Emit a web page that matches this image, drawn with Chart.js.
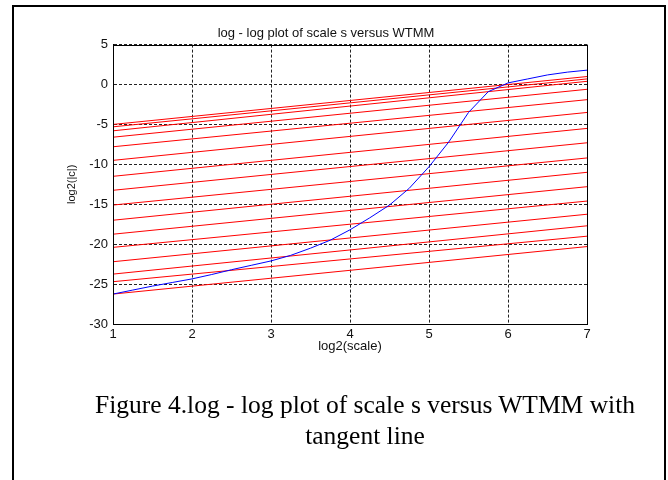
<!DOCTYPE html>
<html>
<head>
<meta charset="utf-8">
<script src="https://cdn.jsdelivr.net/npm/chart.js@4.4.1/dist/chart.umd.min.js"></script>
<style>
    html, body { margin: 0; padding: 0; background: #fff; }
    #wrap { position: relative; width: 668px; height: 480px; overflow: hidden; }
    #frame { position: absolute; left: 12px; top: 5px; width: 650px; height: 520px; border: 2px solid #000; }
    #chart-box { position: absolute; left: 0; top: 0; width: 668px; height: 480px; }
    #caption {
        position: absolute; left: 45px; width: 640px; top: 389px;
        font-family: 'Liberation Serif', 'DejaVu Serif', serif; font-size: 25.5px;
        line-height: 31px; text-align: center; color: #000;
    }
</style>
</head>
<body>
<div id="wrap">
    <div id="frame"></div>
    <div id="chart-box"><canvas id="wtmm-chart" width="668" height="480"></canvas></div>
    <div id="caption">Figure 4.log - log plot of scale s versus WTMM with<br>tangent line</div>
</div>
<script>
// log2(scale) vs log2(|c|) curve
const curveX = [1, 1.25, 1.5, 1.75, 2, 2.25, 2.5, 2.75, 3, 3.25, 3.5, 3.75, 4, 4.25, 4.5, 4.75,
    5, 5.25, 5.5, 5.75, 6, 6.25, 6.5, 6.75, 7];
const curveY = [-26.25, -25.75, -25.25, -24.8, -24.35, -23.8, -23.2, -22.65, -22.1, -21.4, -20.5, -19.5,
    -18.2, -16.7, -15.1, -13.0, -10.3, -7.2, -3.5, -0.9, 0.2, 0.7, 1.2, 1.55, 1.8];

// tangent lines: value at log2(scale)=1 and at log2(scale)=7
const tangentX = [1, 7];
const tangentStart = [-5.0, -5.3, -5.8, -6.6, -7.8, -9.5, -11.5, -13.25, -15.1, -17.0, -18.75, -20.4,
    -22.2, -23.75, -24.7, -26.25];
const tangentEnd = [1.0, 0.7, 0.4, -0.6, -1.9, -3.5, -5.5, -7.3, -9.2, -11.0, -12.8, -14.6,
    -16.25, -17.7, -19.0, -20.3];

const xTicks = [1, 2, 3, 4, 5, 6, 7];
const yTicks = [-30, -25, -20, -15, -10, -5, 0, 5];

const datasets = [{
    label: 'WTMM',
    data: curveX.map((x, i) => ({ x: x, y: curveY[i] })),
    borderColor: '#0000ff',
    borderWidth: 1,
    showLine: true,
    pointRadius: 0,
    tension: 0
}];
tangentStart.forEach((v, i) => {
    datasets.push({
        label: 'tangent ' + (i + 1),
        data: [{ x: tangentX[0], y: v }, { x: tangentX[1], y: tangentEnd[i] }],
        borderColor: '#ff0000',
        borderWidth: 1,
        showLine: true,
        pointRadius: 0
    });
});

// box round the plot area, like the MATLAB axes
const framePlugin = {
    id: 'frame',
    afterDraw(chart) {
        const a = chart.chartArea;
        const ctx = chart.ctx;
        ctx.save();
        ctx.strokeStyle = '#000';
        ctx.lineWidth = 1;
        ctx.strokeRect(Math.round(a.left) + 0.5, Math.round(a.top) + 0.5,
            Math.round(a.right - a.left), Math.round(a.bottom - a.top));
        ctx.restore();
    }
};

const gridStyle = {
    color: '#222',
    lineWidth: 1,
    drawTicks: false
};

new Chart(document.getElementById('wtmm-chart'), {
    type: 'scatter',
    data: { datasets: datasets },
    options: {
        responsive: false,
        animation: false,
        layout: { padding: { left: 65, right: 81, top: 26, bottom: 126 } },
        plugins: {
            legend: { display: false },
            tooltip: { enabled: false },
            title: {
                display: true,
                text: 'log - log plot of scale s versus WTMM',
                color: '#111',
                font: { family: 'Liberation Sans, Arial, sans-serif', size: 13, weight: 'normal' },
                padding: { top: 0, bottom: 3 }
            }
        },
        scales: {
            x: {
                type: 'linear',
                min: 1,
                max: 7,
                afterBuildTicks: s => { s.ticks = xTicks.map(v => ({ value: v })); },
                afterFit: s => { s.height = 30; },
                grid: gridStyle,
                border: { display: true, color: '#000', dash: [3, 2] },
                ticks: {
                    color: '#111',
                    padding: 3,
                    font: { family: 'Liberation Sans, Arial, sans-serif', size: 13 }
                },
                title: {
                    display: true,
                    text: 'log2(scale)',
                    color: '#111',
                    padding: 0,
                    font: { family: 'Liberation Sans, Arial, sans-serif', size: 13 }
                }
            },
            y: {
                type: 'linear',
                min: -30,
                max: 5,
                afterBuildTicks: s => { s.ticks = yTicks.map(v => ({ value: v })); },
                afterFit: s => { s.width = 48; },
                grid: gridStyle,
                border: { display: true, color: '#000', dash: [3, 2] },
                ticks: {
                    color: '#111',
                    padding: 5,
                    font: { family: 'Liberation Sans, Arial, sans-serif', size: 13 }
                },
                title: {
                    display: true,
                    text: 'log2(|c|)',
                    color: '#111',
                    padding: 0,
                    font: { family: 'Liberation Sans, Arial, sans-serif', size: 11 }
                }
            }
        }
    },
    plugins: [framePlugin]
});
</script>
</body>
</html>
